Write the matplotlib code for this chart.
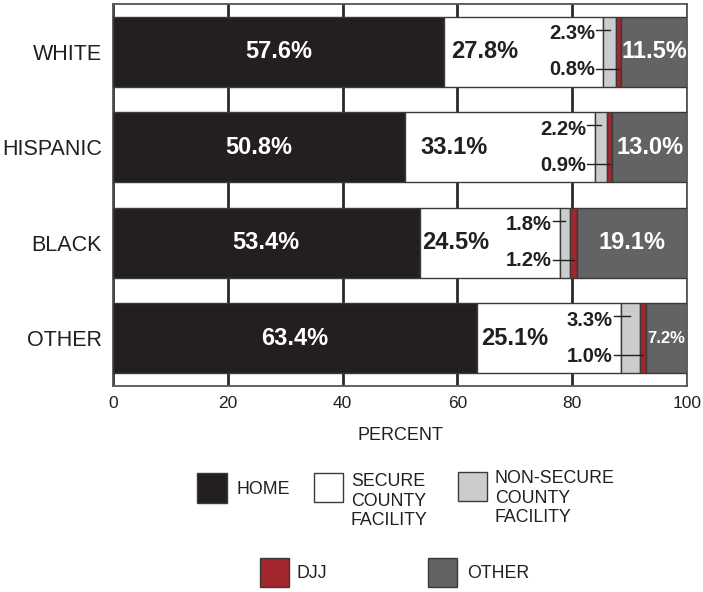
import matplotlib
matplotlib.use("Agg")
import matplotlib.pyplot as plt
from matplotlib.patches import Rectangle

plt.rcParams['font.family'] = ['Liberation Sans', 'DejaVu Sans']

categories = ["WHITE", "HISPANIC", "BLACK", "OTHER"]
home = [57.6, 50.8, 53.4, 63.4]
secure = [27.8, 33.1, 24.5, 25.1]
nonsecure = [2.3, 2.2, 1.8, 3.3]
djj = [0.8, 0.9, 1.2, 1.0]
other = [11.5, 13.0, 19.1, 7.2]
xticks = [0, 20, 40, 60, 80, 100]

series_names = ["HOME", "SECURE\nCOUNTY\nFACILITY", "NON-SECURE\nCOUNTY\nFACILITY", "DJJ", "OTHER"]
colors = ["#231f20", "#ffffff", "#cbcccd", "#a3262d", "#626365"]
edge = "#3a3a3a"
txt = "#231f20"

fig = plt.figure(figsize=(7.03, 5.92), dpi=100)
ax = fig.add_axes([113/703, 1-386/592, (687-113)/703, (386-4)/592])

y = list(range(len(categories)))
h = 0.73
series = [home, secure, nonsecure, djj, other]
lefts = [0.0]*len(categories)
seg_lefts = []
for vals, c in zip(series, colors):
    seg_lefts.append(list(lefts))
    ax.barh(y, vals, left=lefts, height=h, color=c, edgecolor=edge, linewidth=1.0, zorder=3)
    lefts = [l + v for l, v in zip(lefts, vals)]

ax.set_xlim(0, 100)
ax.set_ylim(3.5, -0.5)
ax.set_xticks(xticks)
ax.set_xticklabels([str(t) for t in xticks], fontsize=12.5, color=txt)
ax.set_yticks(y)
ax.set_yticklabels(categories, fontsize=15.5, color=txt)
ax.tick_params(length=0, pad=7)
ax.tick_params(axis='y', pad=8)
ax.xaxis.grid(True, color="#2a2a2a", linewidth=2.0, zorder=0)
ax.set_axisbelow(True)
for s in ax.spines.values():
    s.set_color("#555555")
    s.set_linewidth(1.3)
ax.set_xlabel("PERCENT", fontsize=13, color=txt, labelpad=12)

for i in y:
    # home
    ax.text(home[i]/2, i, f"{home[i]:.1f}%", ha="center", va="center",
            color="white", fontsize=17, fontweight="bold", zorder=5)
    # secure
    sl = seg_lefts[1][i]
    ax.text(sl + secure[i]*0.26, i, f"{secure[i]:.1f}%", ha="center", va="center",
            color=txt, fontsize=17, fontweight="bold", zorder=5)
    # non-secure and djj with leaders
    nl = seg_lefts[2][i]
    dl = seg_lefts[3][i]
    tx = nl - 1.4
    ax.text(tx, i - 0.19, f"{nonsecure[i]:.1f}%", ha="right", va="center",
            color=txt, fontsize=14.5, fontweight="bold", zorder=5)
    ax.text(tx, i + 0.19, f"{djj[i]:.1f}%", ha="right", va="center",
            color=txt, fontsize=14.5, fontweight="bold", zorder=5)
    ax.plot([tx + 0.1, nl + nonsecure[i]/2], [i - 0.23, i - 0.23], color=txt, lw=1.0, zorder=6)
    ax.plot([tx + 0.1, dl + djj[i]/2], [i + 0.18, i + 0.18], color=txt, lw=1.0, zorder=6)
    # other
    ol = seg_lefts[4][i]
    fs = 17 if other[i] >= 10 else 12
    ax.text(ol + other[i]/2, i, f"{other[i]:.1f}%", ha="center", va="center",
            color="white", fontsize=fs, fontweight="bold", zorder=5)

# legend (manual, in pixel-based figure coordinates)
W, H = 703, 592
def add_item(px, py, size, color, label, tx, ty, va="center"):
    r = Rectangle((px/W, 1-(py+size)/H), size/W, size/H, transform=fig.transFigure,
                  facecolor=color, edgecolor=edge, linewidth=1.0)
    fig.patches.append(r)
    fig.text(tx/W, 1-ty/H, label, fontsize=12.8, color=txt, ha="left", va=va, linespacing=1.2)

add_item(197, 473, 30, colors[0], series_names[0], 237, 489)
add_item(314, 473, 29, colors[1], series_names[1], 351, 473, va="top")
add_item(458, 472, 29, colors[2], series_names[2], 495, 470, va="top")
add_item(260, 558, 29, colors[3], series_names[3], 296, 573)
add_item(428, 558, 29, colors[4], series_names[4], 467, 573)

fig.savefig("out.png", dpi=100)
